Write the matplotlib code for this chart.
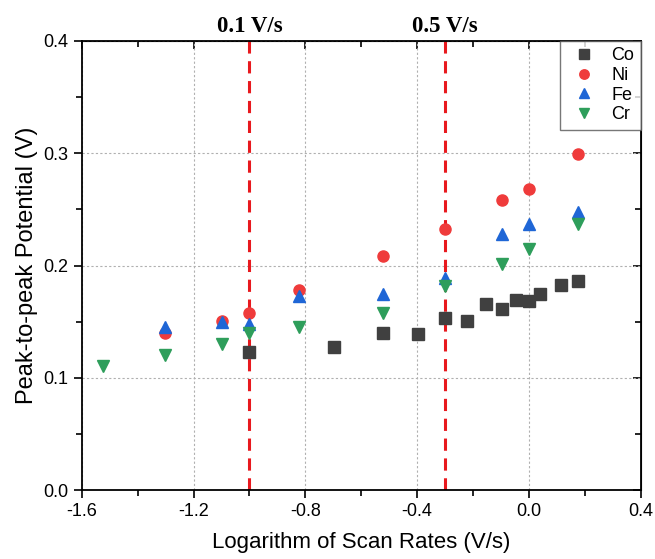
import numpy as np
import matplotlib
matplotlib.use('Agg')
import matplotlib.pyplot as plt
from matplotlib.ticker import MultipleLocator

# data: log10 of scan rate (V/s) vs peak-to-peak potential (V)
co_x = [-1.0, -0.699, -0.523, -0.398, -0.301, -0.222, -0.155, -0.097, -0.046, 0.0, 0.041, 0.114, 0.176]
co_y = [0.1227, 0.1274, 0.1398, 0.1392, 0.1530, 0.1510, 0.1655, 0.1610, 0.1690, 0.1687, 0.1750, 0.1826, 0.1858]

ni_x = [-1.301, -1.097, -1.0, -0.824, -0.523, -0.301, -0.097, 0.0, 0.176]
ni_y = [0.1398, 0.1507, 0.1575, 0.1780, 0.2085, 0.2327, 0.2580, 0.2680, 0.2990]

fe_x = [-1.301, -1.097, -1.0, -0.824, -0.523, -0.301, -0.097, 0.0, 0.176]
fe_y = [0.1450, 0.1496, 0.1480, 0.1730, 0.1746, 0.1885, 0.2277, 0.2370, 0.2480]

cr_x = [-1.523, -1.301, -1.097, -1.0, -0.824, -0.523, -0.301, -0.097, 0.0, 0.176]
cr_y = [0.1110, 0.1206, 0.1300, 0.1400, 0.1457, 0.1575, 0.1817, 0.2018, 0.2145, 0.2366]

ref_x = [-1.0, -0.301]
ref_labels = ['0.1 V/s', '0.5 V/s']

plt.rcParams['font.family'] = ['Liberation Sans', 'DejaVu Sans']

fig = plt.figure(figsize=(6.55, 5.59), dpi=100)
ax = fig.add_axes([0.125, 0.123, 0.853, 0.804])

# grid
ax.grid(True, which='major', ls=(0, (2, 2)), color='#b0b0b0', lw=0.8)
ax.set_axisbelow(True)

# reference lines
for xv, lab in zip(ref_x, ref_labels):
    ax.axvline(xv, color='#e8191e', lw=2.2, ls=(0, (4, 2.5)), zorder=1)
    ax.text(xv, 0.403, lab, ha='center', va='bottom', fontsize=16.5,
            fontweight='bold', family='Liberation Serif')

ms = 8
ax.plot(co_x, co_y, 's', color='#404040', ms=ms, label='Co', zorder=3)
ax.plot(ni_x, ni_y, 'o', color='#ef3b3b', ms=ms, label='Ni', zorder=3)
ax.plot(fe_x, fe_y, '^', color='#1f66d6', ms=ms, label='Fe', zorder=3)
ax.plot(cr_x, cr_y, 'v', color='#2e9e5b', ms=ms, label='Cr', zorder=3)

ax.set_xlim(-1.6, 0.4)
ax.set_ylim(0.0, 0.4)
ax.xaxis.set_major_locator(MultipleLocator(0.4))
ax.xaxis.set_minor_locator(MultipleLocator(0.2))
ax.yaxis.set_major_locator(MultipleLocator(0.1))
ax.yaxis.set_minor_locator(MultipleLocator(0.05))
ax.xaxis.set_major_formatter(plt.FuncFormatter(lambda v, p: f'{v:.1f}'))
ax.yaxis.set_major_formatter(plt.FuncFormatter(lambda v, p: f'{v:.1f}'))

ax.tick_params(which='both', direction='out', labelsize=13, width=1.2)
ax.tick_params(which='major', length=6)
ax.tick_params(which='minor', length=4)
for s in ax.spines.values():
    s.set_linewidth(1.3)

# mirrored ticks on top and right, pointing inward
top = ax.secondary_xaxis('top')
top.xaxis.set_major_locator(MultipleLocator(0.4))
top.xaxis.set_minor_locator(MultipleLocator(0.2))
top.tick_params(which='both', direction='in', labeltop=False, width=1.2)
top.tick_params(which='major', length=6)
top.tick_params(which='minor', length=4)
right = ax.secondary_yaxis('right')
right.yaxis.set_major_locator(MultipleLocator(0.1))
right.yaxis.set_minor_locator(MultipleLocator(0.05))
right.tick_params(which='both', direction='in', labelright=False, width=1.2)
right.tick_params(which='major', length=6)
right.tick_params(which='minor', length=4)

ax.set_xlabel('Logarithm of Scan Rates (V/s)', fontsize=16, labelpad=8)
ax.set_ylabel('Peak-to-peak Potential (V)', fontsize=17, labelpad=4)

leg = ax.legend(loc='upper right', fontsize=13, frameon=True, fancybox=False,
                edgecolor='#555555', borderaxespad=0.0, handletextpad=0.5,
                labelspacing=0.15, borderpad=0.35, handlelength=2.0,
                markerscale=0.85)
leg.get_frame().set_linewidth(1.0)

fig.savefig('out.png', dpi=100)
